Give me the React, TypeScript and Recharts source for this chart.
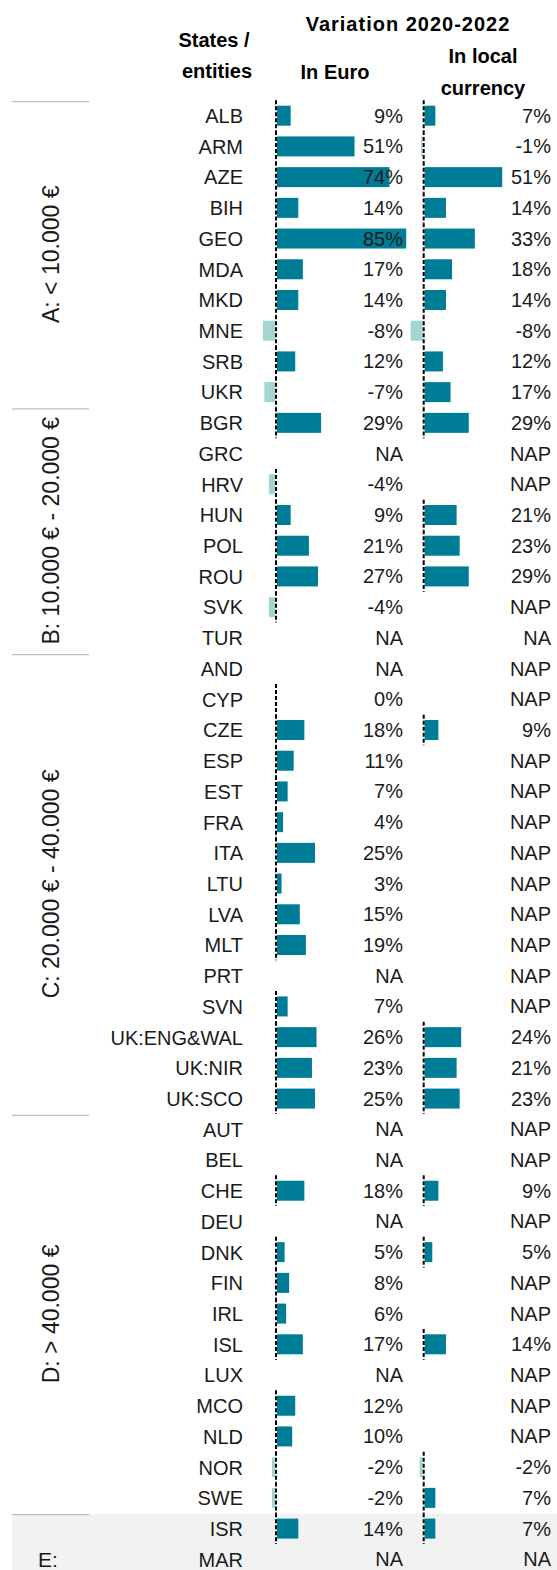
import { BarChart, Bar, XAxis, YAxis, LabelList } from 'recharts';

const countries = [
  'ALB', 'ARM', 'AZE', 'BIH', 'GEO', 'MDA', 'MKD', 'MNE', 'SRB', 'UKR',
  'BGR', 'GRC', 'HRV', 'HUN', 'POL', 'ROU', 'SVK', 'TUR',
  'AND', 'CYP', 'CZE', 'ESP', 'EST', 'FRA', 'ITA', 'LTU', 'LVA', 'MLT', 'PRT', 'SVN', 'UK:ENG&WAL', 'UK:NIR', 'UK:SCO',
  'AUT', 'BEL', 'CHE', 'DEU', 'DNK', 'FIN', 'IRL', 'ISL', 'LUX', 'MCO', 'NLD', 'NOR', 'SWE',
  'ISR', 'MAR',
];

// variation 2020-2022 in euro (%), text where no value
const inEuro: (number | string)[] = [
  9, 51, 74, 14, 85, 17, 14, -8, 12, -7,
  29, 'NA', -4, 9, 21, 27, -4, 'NA',
  'NA', 0, 18, 11, 7, 4, 25, 3, 15, 19, 'NA', 7, 26, 23, 25,
  'NA', 'NA', 18, 'NA', 5, 8, 6, 17, 'NA', 12, 10, -2, -2,
  14, 'NA',
];

// variation 2020-2022 in local currency (%)
const inLocal: (number | string)[] = [
  7, -1, 51, 14, 33, 18, 14, -8, 12, 17,
  29, 'NAP', 'NAP', 21, 23, 29, 'NAP', 'NA',
  'NAP', 'NAP', 9, 'NAP', 'NAP', 'NAP', 'NAP', 'NAP', 'NAP', 'NAP', 'NAP', 'NAP', 24, 21, 23,
  'NAP', 'NAP', 9, 'NAP', 5, 'NAP', 'NAP', 14, 'NAP', 'NAP', 'NAP', -2, 7,
  7, 'NA',
];

const groupLabels = ['A: < 10.000 €', 'B: 10.000 € - 20.000 €', 'C: 20.000 € - 40.000 €', 'D: > 40.000 €', 'E:'];
const groupSizes = [10, 8, 15, 13, 2];

const data = countries.map((c, i) => ({
  country: c,
  eur: typeof inEuro[i] === 'number' ? inEuro[i] : null,
  eurText: typeof inEuro[i] === 'number' ? `${inEuro[i]}%` : inEuro[i],
  loc: typeof inLocal[i] === 'number' ? inLocal[i] : null,
  locText: typeof inLocal[i] === 'number' ? `${inLocal[i]}%` : inLocal[i],
}));

const FONT = '"Liberation Sans", Arial, sans-serif';
const TEAL = '#007d96';
const LIGHT = '#a3d5d1';
const W = 557;
const ROW_TOP = 100.7;
const ROW_H = 30.715;
const H = ROW_TOP + countries.length * ROW_H;

// plot area starts after the label axis; each column gets its own zero position
const PLOT_LEFT = 255;
const PX_PER_PCT = 1.52;
const EUR_ZERO = 276;
const LOC_ZERO = 423.7;
const domainFor = (zero: number): [number, number] => [
  -(zero - PLOT_LEFT) / PX_PER_PCT,
  (W - zero) / PX_PER_PCT,
];

const makeShape = (key: 'eur' | 'loc') => (props: any) => {
  const { x, y, width, height, payload } = props;
  const v = payload?.[key];
  if (v == null) return <g />;
  const left = Math.min(x, x + width);
  const w = Math.abs(width);
  const zero = v >= 0 ? left : left + w;
  const mid = y + height / 2;
  return (
    <g>
      {w > 0 && (
        <rect
          x={v >= 0 ? left + 1 : left - 1}
          y={y}
          width={w}
          height={height}
          fill={v < 0 ? LIGHT : TEAL}
        />
      )}
      <line
        x1={zero}
        x2={zero}
        y1={mid - ROW_H / 2}
        y2={mid + ROW_H / 2}
        stroke="#000"
        strokeWidth={2}
        strokeDasharray="4 2"
      />
    </g>
  );
};

const valueLabel = (right: number) => (props: any) => {
  const { y, height, value } = props;
  return (
    <text x={right} y={y + height / 2 + 7} textAnchor="end" fontSize={20} fontFamily={FONT} fill="#1a1a1a">
      {value}
    </text>
  );
};

const CountryTick = (props: any) => {
  const { y, payload } = props;
  return (
    <text x={243} y={y + 7} textAnchor="end" fontSize={20} fontFamily={FONT} fill="#1a1a1a">
      {payload.value}
    </text>
  );
};

export default function App() {
  let start = 0;
  const groups = groupSizes.map((n, i) => {
    const g = { label: groupLabels[i], top: ROW_TOP + start * ROW_H, mid: ROW_TOP + (start + n / 2) * ROW_H };
    start += n;
    return g;
  });
  const head = { fontFamily: FONT, fontWeight: 700, fontSize: 20, fill: '#000' } as const;

  return (
    <div style={{ position: 'absolute', left: 0, top: 0, width: W, height: 1570, overflow: 'hidden', background: '#fff' }}>
      <svg width={W} height={1570} style={{ position: 'absolute', left: 0, top: 0 }}>
        <rect x={12} y={groups[4].top} width={W - 12} height={1570 - groups[4].top} fill="#f2f2f2" />
        {groups.map((g) => (
          <line key={g.label} x1={12} x2={89} y1={g.top + 1} y2={g.top + 1} stroke="#bfbfbf" strokeWidth={1.2} />
        ))}
        {groups.slice(0, 4).map((g) => (
          <text
            key={g.label}
            transform={`translate(51, ${g.mid}) rotate(-90)`}
            textAnchor="middle"
            dy={8}
            fontSize={23}
            fontFamily={FONT}
            fill="#1a1a1a"
          >
            {g.label}
          </text>
        ))}
        <text x={48} y={ROW_TOP + 47.5 * ROW_H + 7} textAnchor="middle" fontSize={21} fontFamily={FONT} fill="#1a1a1a">
          {groupLabels[4]}
        </text>
        <text x={408} y={31} textAnchor="middle" {...head} letterSpacing={1}>Variation 2020-2022</text>
        <text x={214} y={47} textAnchor="middle" {...head}>States /</text>
        <text x={217} y={78} textAnchor="middle" {...head}>entities</text>
        <text x={335} y={79} textAnchor="middle" {...head}>In Euro</text>
        <text x={483} y={63} textAnchor="middle" {...head}>In local</text>
        <text x={483} y={95} textAnchor="middle" {...head}>currency</text>
      </svg>
      <div style={{ position: 'absolute', left: 0, top: 0 }}>
        <BarChart
          width={W}
          height={H}
          data={data}
          layout="vertical"
          margin={{ top: ROW_TOP, right: 0, bottom: 0, left: 0 }}
          barCategoryGap={0}
        >
          <XAxis xAxisId="eur" type="number" domain={domainFor(EUR_ZERO)} hide allowDataOverflow />
          <XAxis xAxisId="loc" type="number" domain={domainFor(LOC_ZERO)} hide allowDataOverflow />
          <YAxis
            yAxisId="eur"
            type="category"
            dataKey="country"
            width={PLOT_LEFT}
            axisLine={false}
            tickLine={false}
            interval={0}
            tick={CountryTick}
          />
          <YAxis yAxisId="loc" type="category" dataKey="country" hide />
          <YAxis yAxisId="txt" type="category" dataKey="country" hide />
          <Bar
            dataKey="eur"
            xAxisId="eur"
            yAxisId="eur"
            barSize={20}
            shape={makeShape('eur')}
            isAnimationActive={false}
          />
          <Bar
            dataKey="loc"
            xAxisId="loc"
            yAxisId="loc"
            barSize={20}
            shape={makeShape('loc')}
            isAnimationActive={false}
          />
          {/* zero-length carrier so every row, NA/NAP included, gets its value text */}
          <Bar
            dataKey={() => 0}
            xAxisId="eur"
            yAxisId="txt"
            barSize={20}
            shape={() => <g />}
            isAnimationActive={false}
          >
            <LabelList dataKey="eurText" content={valueLabel(403)} />
            <LabelList dataKey="locText" content={valueLabel(551)} />
          </Bar>
        </BarChart>
      </div>
    </div>
  );
}
